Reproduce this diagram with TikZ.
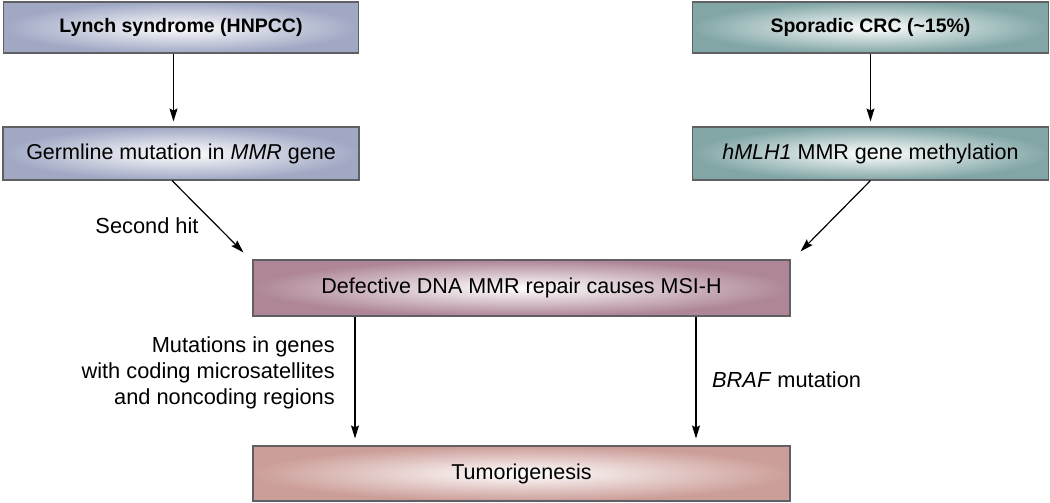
\documentclass[tikz,border=0pt]{standalone}
\usepackage{fontspec}
\setmainfont{Liberation Sans}
\usepackage{tikz}
\usetikzlibrary{arrows.meta,positioning}

\definecolor{lynchc}{RGB}{160,168,196}
\definecolor{sporc}{RGB}{130,166,166}
\definecolor{defc}{RGB}{174,134,152}
\definecolor{tumc}{RGB}{204,158,153}
\definecolor{edgec}{RGB}{95,95,100}

\begin{document}
\begin{tikzpicture}[x=1pt,y=-1pt]
  \tikzset{ box/.style={rectangle,draw=edgec,line width=1.1pt,inner sep=0pt,
                        shading=radial,inner color=white,
                        font=\fontsize{21.5}{25}\selectfont},
            hdr/.style={box,font=\fontsize{19.5}{24}\selectfont\bfseries},
            lbl/.style={inner sep=0pt,font=\fontsize{21.8}{26}\selectfont},
            arr/.style={-{Stealth[length=13pt,width=8pt,inset=2pt]},line width=1.2pt},
  }
  \useasboundingbox (0,0) rectangle (1050,503);

  \node[hdr,outer color=lynchc,minimum width=355pt,minimum height=51pt] (LS) at (181,27.5) {Lynch syndrome (HNPCC)};
  \node[hdr,outer color=sporc,minimum width=356pt,minimum height=51pt] (SC) at (870.5,27.5) {Sporadic CRC (\textasciitilde15\%)};
  \node[box,outer color=lynchc,minimum width=356pt,minimum height=53pt] (GM) at (181,153.5) {Germline mutation in \textit{MMR} gene};
  \node[box,outer color=sporc,minimum width=356pt,minimum height=53pt] (HM) at (870.5,153.5) {\textit{hMLH1} MMR gene methylation};
  \node[box,outer color=defc,minimum width=537pt,minimum height=56pt] (DD) at (521.5,288) {Defective DNA MMR repair causes MSI-H};
  \node[box,outer color=tumc,minimum width=537pt,minimum height=55pt] (TG) at (521.5,473.5) {Tumorigenesis};

  % labels on the arrows
  \node[lbl] (SH) at (147,226) {Second hit};
  \node[lbl,anchor=east,align=right] (MG) at (335,373) {Mutations in genes\\with coding microsatellites\\and noncoding regions};
  \node[lbl,anchor=west] (BM) at (712,380) {\textit{BRAF} mutation};

  % the connections between the boxes
  \draw[arr,shorten >=5pt] ([xshift=-7.5pt]LS.south) -- ([xshift=-7.5pt]GM.north);
  \draw[arr,shorten >=5pt] (SC.south) -- (HM.north);
  \draw[arr] ([xshift=-9pt]GM.south) -- ([xshift=-9pt,yshift=7pt]DD.north west);
  \draw[arr] (HM.south) -- ([xshift=10pt,yshift=8pt]DD.north east);
  \draw[arr,shorten >=7pt] ([xshift=-166.5pt]DD.south) -- ([xshift=-166.5pt]TG.north);
  \draw[arr,shorten >=7pt] ([xshift=174.5pt]DD.south) -- ([xshift=174.5pt]TG.north);
\end{tikzpicture}
\end{document}
